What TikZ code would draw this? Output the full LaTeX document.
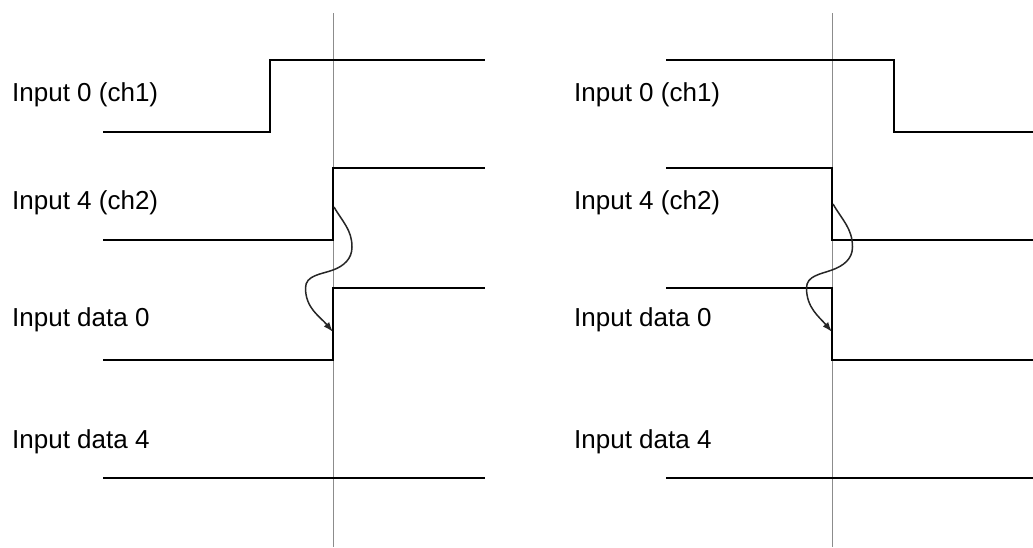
\documentclass[tikz,border=0pt]{standalone}
\usepackage{fontspec}
\setmainfont{Liberation Sans}
\usetikzlibrary{arrows.meta}
\begin{document}
\begin{tikzpicture}[x=1pt,y=-1pt,
  lbl/.style={anchor=base west,inner sep=0pt,font=\fontsize{26}{31}\selectfont},
  trace/.style={line width=1.6pt,black,line join=miter},
  marker/.style={line width=1pt,black!45},
  cause/.style={line width=1.5pt,black!85,-{Latex[length=10pt,width=7pt]}}]
\useasboundingbox (0,0) rectangle (1033,547);
% ---------- left panel ----------
\draw[marker] (333,13) -- (333,547);
\node[lbl] (la) at (12,101) {Input 0 (ch1)};
\node[lbl] (lb) at (12,209) {Input 4 (ch2)};
\node[lbl] (lc) at (12,326) {Input data 0};
\node[lbl] (ld) at (12,448) {Input data 4};
\draw[trace] (103,132) -- (270,132) -- (270,60) -- (485,60);
\draw[trace] (103,240) -- (333,240) -- (333,168) -- (485,168);
\draw[trace] (103,360) -- (333,360) -- (333,288) -- (485,288);
\draw[trace] (103,478) -- (485,478);
\coordinate (ls) at (334,207);
\coordinate (le) at (333,332);
\draw[cause] (ls) to[out=-60,in=90] (352,247) to[out=-90,in=20] (333,270)
  to[out=200,in=90] (305.5,288) to[out=-90,in=130] (le);
% ---------- right panel ----------
\draw[marker] (832,13) -- (832,547);
\node[lbl] (ra) at (574,101) {Input 0 (ch1)};
\node[lbl] (rb) at (574,209) {Input 4 (ch2)};
\node[lbl] (rc) at (574,326) {Input data 0};
\node[lbl] (rd) at (574,448) {Input data 4};
\draw[trace] (666,60) -- (894,60) -- (894,132) -- (1033,132);
\draw[trace] (666,168) -- (832,168) -- (832,240) -- (1033,240);
\draw[trace] (666,288) -- (832,288) -- (832,360) -- (1033,360);
\draw[trace] (666,478) -- (1033,478);
\coordinate (rs) at (833,204);
\coordinate (re) at (832,332);
\draw[cause] (rs) to[out=-60,in=90] (852.5,247) to[out=-90,in=20] (832,270)
  to[out=200,in=90] (806.5,288) to[out=-90,in=130] (re);
\end{tikzpicture}
\end{document}
